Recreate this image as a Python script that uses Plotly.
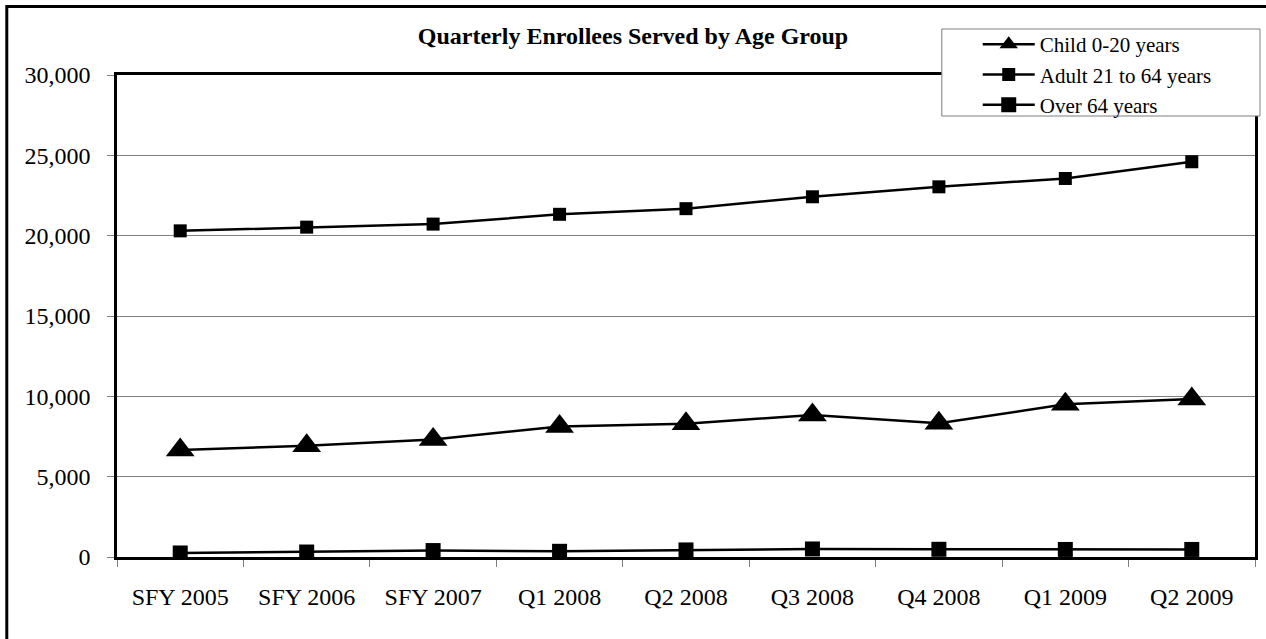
import plotly.graph_objects as go

# Quarterly enrollee counts by age group
categories = ["SFY 2005", "SFY 2006", "SFY 2007", "Q1 2008", "Q2 2008",
              "Q3 2008", "Q4 2008", "Q1 2009", "Q2 2009"]
child = [6660, 6930, 7320, 8120, 8290, 8840, 8320, 9500, 9830]
adult = [20300, 20530, 20720, 21330, 21680, 22420, 23040, 23560, 24600]
over64 = [250, 310, 400, 355, 440, 500, 480, 470, 470]

y_ticks = [0, 5000, 10000, 15000, 20000, 25000, 30000]

W, H = 1266, 639
ML, MR, MT, MB = 117, 8, 75, 82
PW, PH = W - ML - MR, H - MT - MB
FONT = "Liberation Serif, Times New Roman, serif"


def px_x(px):
    return (px - ML) / PW


def px_y(py):
    return (H - MB - py) / PH


fig = go.Figure()

fig.add_trace(go.Scatter(
    x=categories, y=child, name="Child 0-20 years", mode="lines+markers",
    line=dict(color="black", width=2.5),
    marker=dict(symbol="triangle-up", size=25, color="black"),
))
fig.add_trace(go.Scatter(
    x=categories, y=adult, name="Adult 21 to 64 years", mode="lines+markers",
    line=dict(color="black", width=2.5),
    marker=dict(symbol="square", size=13, color="black"),
))
fig.add_trace(go.Scatter(
    x=categories, y=over64, name="Over 64 years", mode="lines+markers",
    line=dict(color="black", width=2.5),
    marker=dict(symbol="square", size=15, color="black"),
))

shapes = [
    # outer chart frame (top and left edges visible)
    dict(type="rect", xref="paper", yref="paper", layer="above",
         x0=px_x(6.5), x1=px_x(1272), y0=px_y(646), y1=px_y(6.5),
         line=dict(color="black", width=3), fillcolor="rgba(0,0,0,0)"),
    # legend box
    dict(type="rect", xref="paper", yref="paper", layer="above",
         x0=px_x(944), x1=px_x(1263), y0=px_y(116), y1=px_y(29),
         line=dict(color="#7f7f7f", width=1), fillcolor="white"),
]

fig.update_layout(
    width=W, height=H,
    margin=dict(l=ML, r=MR, t=MT, b=MB, pad=0),
    paper_bgcolor="white", plot_bgcolor="white",
    font=dict(family=FONT, color="black", size=24),
    title=dict(text="<b>Quarterly Enrollees Served by Age Group</b>",
               font=dict(family=FONT, size=24, color="black"),
               xref="container", x=0.5, xanchor="center",
               yref="container", y=1 - 36 / H, yanchor="middle"),
    showlegend=True,
    legend=dict(x=px_x(980), y=px_y(24), xanchor="left", yanchor="top",
                xref="paper", yref="paper",
                bgcolor="rgba(0,0,0,0)", borderwidth=0,
                font=dict(family=FONT, size=21, color="black"),
                itemwidth=52, tracegroupgap=0),
    shapes=shapes,
    xaxis=dict(
        type="category", range=[-0.5, len(categories) - 0.5],
        showline=True, linecolor="black", linewidth=2.5, mirror=True,
        ticks="outside", tickson="boundaries", ticklen=7, tickcolor="#7f7f7f",
        tickwidth=1, showgrid=False, zeroline=False,
        tickfont=dict(family=FONT, size=24, color="black"),
        ticklabelstandoff=16,
    ),
    yaxis=dict(
        range=[0, 30000], tickvals=y_ticks, tickformat=",",
        showline=True, linecolor="black", linewidth=2.5, mirror=True,
        ticks="outside", ticklen=7, tickcolor="#7f7f7f", tickwidth=1,
        showgrid=True, gridcolor="#7f7f7f", gridwidth=1, zeroline=False,
        tickfont=dict(family=FONT, size=24, color="black"),
        ticklabelstandoff=12,
    ),
)

fig.write_html("out.html")
